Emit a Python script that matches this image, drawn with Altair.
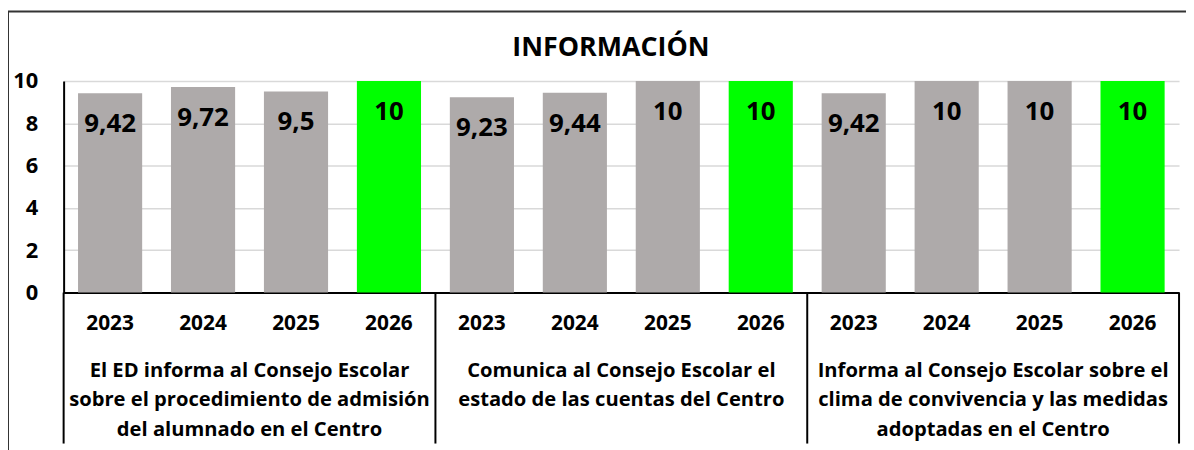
import altair as alt
import pandas as pd

title_text = "INFORMACIÓN"
years = ["2023", "2024", "2025", "2026"]
group_labels = [
    "El ED informa al Consejo Escolar\nsobre el procedimiento de admisión\ndel alumnado en el Centro",
    "Comunica al Consejo Escolar el\nestado de las cuentas del Centro",
    "Informa al Consejo Escolar sobre el\nclima de convivencia y las medidas\nadoptadas en el Centro",
]
values_g1 = [9.42, 9.72, 9.5, 10]
values_g2 = [9.23, 9.44, 10, 10]
values_g3 = [9.42, 10, 10, 10]
y_ticks = [0, 2, 4, 6, 8, 10]

GREY = "#AEAAAA"
GREEN = "#00FF00"
FONT = "Open Sans"


def fmt(v):
    return f"{v:g}".replace(".", ",")


rows = []
for gi, (lab, vals) in enumerate(zip(group_labels, [values_g1, values_g2, values_g3])):
    for yr, v in zip(years, vals):
        rows.append(dict(group=lab, gi=gi, year=yr, key=f"{gi}|{yr}", value=v, label=fmt(v)))
df = pd.DataFrame(rows)
keys = list(df["key"])

W, H = 1123, 213

x_enc = alt.X("key:N", sort=keys, title=None,
              scale=alt.Scale(paddingInner=0, paddingOuter=0),
              axis=alt.Axis(labels=False, ticks=False, domainColor="black",
                            domainWidth=2, grid=False, title=None))

base = alt.Chart(df)

bars = base.mark_bar(width={"band": 0.69}).encode(
    x=x_enc,
    y=alt.Y("value:Q", title=None,
            scale=alt.Scale(domain=[0, 10], nice=False),
            axis=alt.Axis(values=y_ticks, format="d", ticks=False, labelPadding=26,
                          labelFontSize=22, labelFontWeight="bold", labelColor="black",
                          domainColor="black", domainWidth=2,
                          gridColor="#D9D9D9", gridWidth=1.5, title=None)),
    color=alt.Color("year:N", scale=alt.Scale(domain=years, range=[GREY, GREY, GREY, GREEN]),
                    legend=None),
)

value_labels = base.mark_text(baseline="middle", dy=31, fontSize=26, fontWeight="bold",
                              color="black").encode(
    x=alt.X("key:N", sort=keys),
    y=alt.Y("value:Q"),
    text="label:N",
)

year_labels = base.mark_text(baseline="middle", fontSize=21, fontWeight="bold",
                             color="black").encode(
    x=alt.X("key:N", sort=keys),
    y=alt.value(245),
    text="year:N",
)

grp_df = df[df["year"] == "2025"]
group_text = alt.Chart(grp_df).mark_text(baseline="alphabetic", align="center", fontSize=20.3,
                                         fontWeight="bold", color="black", lineBreak="\n",
                                         lineHeight=29.5).encode(
    x=alt.X("key:N", sort=keys, bandPosition=0),
    y=alt.value(298),
    text="group:N",
)

sep_df = df[df["year"] == "2023"]
separators = alt.Chart(sep_df).mark_rule(color="black", strokeWidth=2).encode(
    x=alt.X("key:N", sort=keys, bandPosition=0),
    y=alt.value(H),
    y2=alt.value(365),
)
end_df = df.tail(1)
end_sep = alt.Chart(end_df).mark_rule(color="black", strokeWidth=2).encode(
    x=alt.X("key:N", sort=keys, bandPosition=1),
    y=alt.value(H),
    y2=alt.value(365),
)

one = pd.DataFrame({"t": [title_text]})
title_mark = alt.Chart(one).mark_text(baseline="alphabetic", align="center", fontSize=27,
                                      fontWeight="bold", color="black").encode(
    x=alt.value(551), y=alt.value(-25), text="t:N")
border_top = alt.Chart(one).mark_rule(color="#333333", strokeWidth=2).encode(
    x=alt.value(-56), x2=alt.value(1135), y=alt.value(-70))
border_left = alt.Chart(one).mark_rule(color="#333333", strokeWidth=2).encode(
    x=alt.value(-56), y=alt.value(-70), y2=alt.value(380))

chart = alt.layer(
    bars, value_labels, year_labels, group_text, separators, end_sep,
    title_mark, border_top, border_left
).properties(
    width=W, height=H,
    autosize=alt.AutoSizeParams(type="none"),
    padding={"left": 56, "top": 72, "right": 7, "bottom": 157},
).configure(font=FONT).configure_view(strokeWidth=0)

chart.save("out.html", embed_options={"renderer": "svg", "actions": False})
